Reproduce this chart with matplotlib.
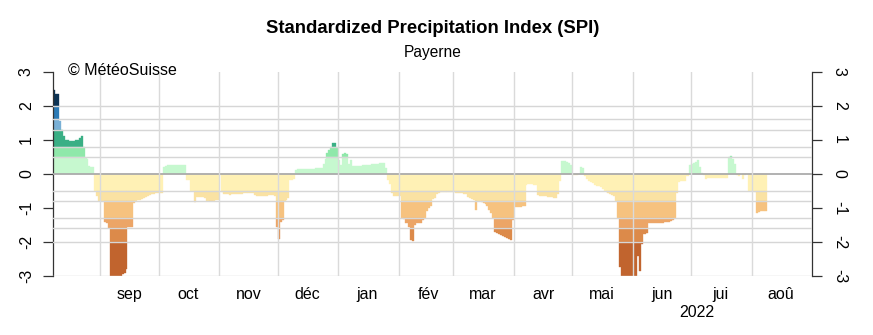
import numpy as np
import pandas as pd
import matplotlib
matplotlib.use("Agg")
import matplotlib.pyplot as plt

plt.rcParams['font.family'] = ['Liberation Sans', 'DejaVu Sans']
plt.rcParams['axes.unicode_minus'] = False

# SPI journalier, Payerne (08.08.2021 - 08.08.2022)
start = "2021-08-08"
spi_aug21 = [2.45, 2.35, 2.35, 1.55, 1.3, 1.1, 1.0, 0.98, 0.97, 0.97, 0.97, 0.98,
             0.98, 1.05, 1.12, 0.78, 0.47, 0.45, 0.22, 0.2, 0.2, -0.5, -0.65, -0.8]
spi_sep21 = [-0.8, -0.8, -1.4, -1.45, -1.6, -3.0, -3.0, -3.0, -3.0, -3.0, -3.0, -2.95,
             -2.9, -2.8, -1.55, -1.55, -1.55, -0.85, -0.8, -0.78, -0.76, -0.75, -0.72,
             -0.68, -0.65, -0.62, -0.6, -0.58, -0.57, -0.56]
spi_oct21 = [-0.56, -0.55, 0.2, 0.24, 0.26, 0.26, 0.27, 0.27, 0.27, 0.27, 0.27, 0.27,
             0.26, 0.26, -0.17, -0.17, -0.5, -0.5, -0.83, -0.68, -0.68, -0.67, -0.68,
             -0.7, -0.8, -0.8, -0.81, -0.81, -0.8, -0.78, -0.78]
spi_nov21 = [-0.03, -0.52, -0.58, -0.6, -0.6, -0.61, -0.6, -0.6, -0.59, -0.59, -0.58,
             -0.58, -0.57, -0.56, -0.56, -0.55, -0.55, -0.56, -0.62, -0.64, -0.65, -0.65,
             -0.65, -0.66, -0.64, -0.62, -0.62, -0.62, -0.65, -1.55]
spi_dec21 = [-1.9, -1.4, -1.35, -0.8, -0.76, -0.72, -0.17, -0.17, -0.15, 0.12, 0.14,
             0.15, 0.15, 0.15, 0.15, 0.15, 0.15, 0.15, 0.15, 0.16, 0.16, 0.16, 0.18,
             0.3, 0.45, 0.62, 0.7, 0.78, 0.92, 0.92, 0.77]
spi_jan22 = [0.4, 0.25, 0.58, 0.6, 0.58, 0.3, 0.42, 0.22, 0.22, 0.23, 0.23, 0.24, 0.25,
             0.25, 0.26, 0.27, 0.27, 0.28, 0.29, 0.3, 0.3, 0.31, 0.32, 0.33, 0.17, -0.18,
             -0.3, -0.55, -0.65, -0.65, -0.65]
spi_feb22 = [-0.66, -1.3, -1.32, -1.45, -1.45, -1.55, -1.95, -1.98, -1.5, -1.45, -1.45,
             -1.45, -1.35, -1.3, -1.1, -1.0, -0.95, -0.75, -0.72, -0.6, -0.55, -0.53,
             -0.52, -0.52, -0.52, -0.53, -0.53, -0.52]
spi_mar22 = [-0.52, -0.55, -0.56, -0.57, -0.57, -0.58, -0.6, -0.68, -0.7, -0.74, -0.76,
             -1.06, -0.8, -0.8, -0.82, -0.85, -0.88, -0.95, -1.05, -1.15, -1.3, -1.7,
             -1.75, -1.78, -1.8, -1.82, -1.85, -1.88, -1.9, -1.95, -1.35]
spi_apr22 = [-0.97, -0.97, -0.96, -0.96, -0.95, -0.95, -0.32, -0.3, -0.3, -0.3, -0.32,
             -0.33, -0.62, -0.64, -0.65, -0.66, -0.66, -0.67, -0.68, -0.68, -0.7, -0.72,
             -0.6, -0.2, 0.38, 0.38, 0.37, 0.36, 0.33, 0.25]
spi_may22 = [-0.02, -0.02, -0.02, -0.01, 0.2, 0.16, -0.05, -0.15, -0.22, -0.25, -0.27,
             -0.33, -0.35, -0.37, -0.38, -0.45, -0.5, -0.52, -0.55, -0.6, -0.62, -0.65,
             -0.8, -1.3, -2.75, -3.0, -3.0, -3.0, -3.0, -3.0, -3.0]
spi_jun22 = [-3.0, -3.0, -2.4, -2.85, -2.05, -1.77, -1.77, -1.75, -1.45, -1.45, -1.44,
             -1.44, -1.44, -1.43, -1.43, -1.43, -1.42, -1.42, -1.4, -1.38, -1.35, -1.3,
             -0.55, -0.25, -0.22, -0.2, -0.2, -0.07, -0.07, 0.25]
spi_jul22 = [0.3, 0.33, 0.35, 0.42, 0.2, 0.03, -0.02, -0.15, -0.12, -0.12, -0.12, -0.12,
             -0.12, -0.12, -0.12, -0.12, -0.12, -0.12, -0.12, 0.5, 0.52, 0.45, 0.3, -0.03,
             -0.05, 0.0, -0.15, -0.02, 0.0, -0.5, -0.5]
spi_aug22 = [-0.5, -0.52, -1.15, -1.12, -1.1, -1.1, -1.1, -1.1]

spi = np.array(spi_aug21 + spi_sep21 + spi_oct21 + spi_nov21 + spi_dec21 + spi_jan22
               + spi_feb22 + spi_mar22 + spi_apr22 + spi_may22 + spi_jun22 + spi_jul22
               + spi_aug22)
dates = pd.date_range(start, periods=len(spi), freq="D")

# classes de couleur
bands = [(2.0, 3.5, "#0c3354"), (1.6, 2.0, "#2c7bb6"), (1.3, 1.6, "#79b0d6"),
         (0.8, 1.3, "#3aaf85"), (0.5, 0.8, "#8fe8aa"), (0.0, 0.5, "#c6f8cf"),
         (-0.5, 0.0, "#fff1b5"), (-0.8, -0.5, "#fae2a3"), (-1.3, -0.8, "#f6c27f"),
         (-1.6, -1.3, "#eca567"), (-2.0, -1.6, "#dc8a4a"), (-3.5, -2.0, "#c1642e")]
grid_levels = [2.0, 1.6, 1.3, 0.8, 0.5, -0.5, -0.8, -1.3, -1.6, -2.0, -3.0]

month_starts = pd.date_range("2021-09-01", "2022-08-01", freq="MS")
month_labels = ["sep", "oct", "nov", "déc", "jan", "fév", "mar", "avr", "mai", "jun",
                "jui", "aoû"]

fig = plt.figure(figsize=(8.73, 3.35), dpi=100)
ax = fig.add_axes([0.0611, 0.1761, 0.8694, 0.6099])

for lo, hi, col in bands:
    if hi > 0:
        h = np.clip(spi, lo, hi) - lo
        base = lo
    else:
        h = np.clip(spi, lo, hi) - hi
        base = hi
    m = np.abs(h) > 1e-9
    ax.bar(dates[m], h[m], bottom=base, width=1.0, align="edge", color=col,
           edgecolor=col, linewidth=0.25, zorder=2)

for g in grid_levels:
    ax.axhline(g, color="#d6d6d6", lw=1.0, zorder=3)
ax.axhline(0, color="#ababab", lw=1.3, zorder=3)
for d in month_starts:
    ax.axvline(d, color="#dadada", lw=1.0, zorder=3)

ax.set_xlim(pd.Timestamp("2021-08-08"), pd.Timestamp("2022-09-01"))
ax.set_ylim(-3, 3)

mid = month_starts + pd.Timedelta(days=15)
ax.set_xticks(mid)
ax.set_xticklabels(month_labels, fontsize=11.5)
ax.tick_params(axis="x", length=0, pad=8)
ax.text(pd.Timestamp("2022-07-04"), -0.18, "2022", transform=ax.get_xaxis_transform(),
        ha="center", va="center", fontsize=11.5)

for s in ["top", "bottom"]:
    ax.spines[s].set_visible(False)
for s in ["left", "right"]:
    ax.spines[s].set_color("#333333")
    ax.spines[s].set_linewidth(0.9)
ax.set_yticks([-3, -2, -1, 0, 1, 2, 3])
ax.tick_params(axis="y", direction="out", length=7, width=0.9, color="#333333",
               labelsize=11.5, left=True, right=True, labelleft=True, labelright=True)
for lab in ax.get_yticklabels():
    lab.set_rotation(90)
    lab.set_va("center")
for t in ax.yaxis.get_major_ticks():
    t.label2.set_rotation(-90)
    t.label2.set_va("center")
ax.tick_params(axis="y", which="major", pad=7)

fig.text(0.4957, 0.916, "Standardized Precipitation Index (SPI)", ha="center",
         va="center", fontsize=13.3, fontweight="bold")
fig.text(0.4957, 0.842, "Payerne", ha="center", va="center", fontsize=11.2)
fig.text(0.0779, 0.789, "© MétéoSuisse", ha="left", va="center", fontsize=11.5)

fig.savefig("out.png", dpi=100)
